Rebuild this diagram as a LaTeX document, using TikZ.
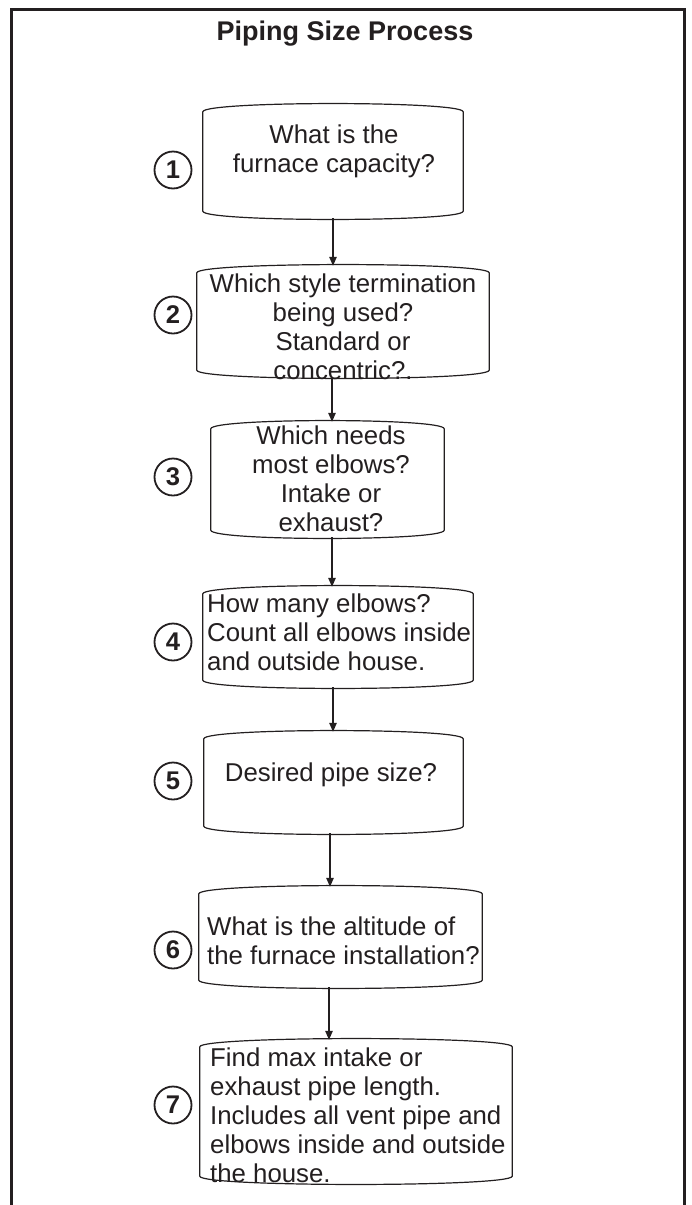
\documentclass[tikz,border=0pt]{standalone}
\usepackage{fontspec}
\setmainfont{Liberation Sans}
\usepackage{tikz}
\usetikzlibrary{arrows.meta}
\definecolor{ink}{RGB}{35,31,32}
\tikzset{
	pbox/.style={inner sep=0pt, draw=none},
	ptext/.style={inner sep=0pt, text=ink, font=\fontsize{25.8}{29}\selectfont},
	num/.style={circle, draw=ink, line width=1.8pt, minimum size=37pt, inner sep=0pt, text=ink, font=\fontsize{25.6}{28}\selectfont\bfseries},
	arr/.style={draw=ink, line width=1.2pt, -{Triangle[length=9pt,width=7.5pt]}},
}

\begin{document}
\begin{tikzpicture}[x=1pt,y=-1pt]
		\useasboundingbox (0,0) rectangle (691,1205);
		\draw[ink, line width=3pt] (11,1205) -- (11,9) -- (684,9) -- (684,1205); % cornice aperta in basso
		\node[ptext, font=\fontsize{27}{30}\selectfont\bfseries] (title) at (345,34) {Piping Size Process};

		\node[pbox, minimum width=260pt, minimum height=113pt] (s1) at (333,161.5) {};
		\node[pbox, minimum width=292pt, minimum height=111pt] (s2) at (343,321.5) {};
		\node[pbox, minimum width=233pt, minimum height=115pt] (s3) at (327.5,479.5) {};
		\node[pbox, minimum width=270pt, minimum height=100pt] (s4) at (338,637) {};
		\node[pbox, minimum width=259pt, minimum height=101pt] (s5) at (333.5,782.5) {};
		\node[pbox, minimum width=283pt, minimum height=100pt] (s6) at (340.5,937) {};
		\node[pbox, minimum width=312pt, minimum height=143pt] (s7) at (356,1111.5) {};
		% bordi leggermente curvi
		\foreach \n in {s1,s2,s3,s4,s5,s6,s7}
			\draw[ink, line width=1.2pt] ([yshift=7pt]\n.south west) -- ([yshift=-7pt]\n.north west)
				.. controls ([yshift=4pt]\n.north west) and ([yshift=4pt]\n.north east) .. ([yshift=-7pt]\n.north east)
				-- ([yshift=7pt]\n.south east)
				.. controls ([yshift=-4pt]\n.south east) and ([yshift=-4pt]\n.south west) .. ([yshift=7pt]\n.south west) -- cycle;

		\node[ptext, align=center] (t1) at (334,151) {What is the\\furnace capacity?};
		\node[ptext, align=center] (t2) at (343,327) {Which style termination\\being used?\\Standard or\\concentric?.};
		\node[ptext, align=center] (t3) at (331,479) {Which needs\\most elbows?\\Intake or\\exhaust?};
		\node[ptext, align=left, anchor=west] (t4) at (207,632) {How many elbows?\\Count all elbows inside\\and outside house.};
		\node[ptext, align=center] (t5) at (331,775) {Desired pipe size?};
		\node[ptext, align=left, anchor=west] (t6) at (207,940.5) {What is the altitude of\\the furnace installation?};
		\node[ptext, align=left, anchor=west] (t7) at (210,1115.5) {Find max intake or\\exhaust pipe length.\\Includes all vent pipe and\\elbows inside and outside\\the house.};

		\foreach \i/\y in {1/170, 2/315, 3/477, 4/642, 5/781, 6/950, 7/1105}
			\node[num] (c\i) at (173,\y) {\i};

		\foreach \a/\b/\x in {s1/s2/333, s2/s3/332, s3/s4/332, s4/s5/333, s5/s6/330, s6/s7/329}
			\draw[arr] (\a.south -| \x,0) -- (\b.north -| \x,0);
	\end{tikzpicture}
\end{document}
